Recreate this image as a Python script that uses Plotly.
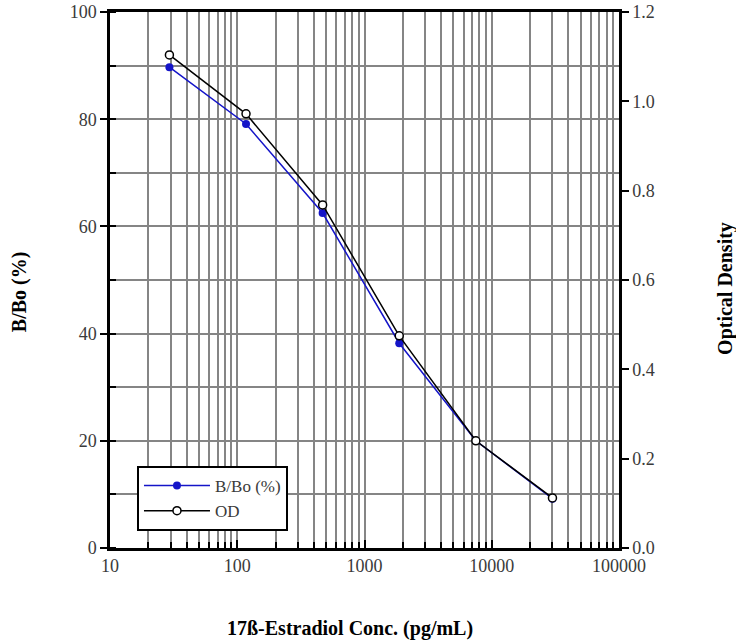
import plotly.graph_objects as go

conc = [29.3, 117.2, 468.75, 1875, 7500, 30000]
bbo = [89.7, 79.1, 62.5, 38.2, 20.0, 9.2]
od = [1.104, 0.972, 0.768, 0.475, 0.240, 0.112]

x_ticks = [10, 100, 1000, 10000, 100000]
x_ticktext = ["10", "100", "1000", "10000", "100000"]

x_title = "<b>17ß-Estradiol Conc. (pg/mL)</b>"
y_title = "<b>B/Bo (%)</b>"
y2_title = "<b>Optical Density</b>"

serif = "Liberation Serif"
grid_c = "#858585"
tick_font = dict(family=serif, size=18, color="#3a3a3a")
title_font = dict(family=serif, size=20, color="black")

fig = go.Figure()
fig.add_trace(go.Scatter(
    x=conc, y=bbo, name="B/Bo (%)", mode="lines+markers",
    line=dict(color="#1414c8", width=1.5),
    marker=dict(color="#1414c8", size=8, symbol="circle"),
))
fig.add_trace(go.Scatter(
    x=conc, y=od, name="OD", mode="lines+markers", yaxis="y2",
    line=dict(color="black", width=1.5),
    marker=dict(color="white", size=8, symbol="circle",
                line=dict(color="black", width=1.5)),
))

fig.update_layout(
    width=736, height=642,
    margin=dict(l=110, r=117, t=12, b=94),
    paper_bgcolor="white", plot_bgcolor="white",
    font=dict(family=serif, size=18, color="#3a3a3a"),
    showlegend=True,
    legend=dict(
        x=0.053, y=0.153, xanchor="left", yanchor="top",
        bgcolor="white", bordercolor="black", borderwidth=2,
        font=dict(family=serif, size=17, color="#3a3a3a"),
        itemwidth=66, tracegroupgap=0,
    ),
    xaxis=dict(
        type="log", range=[1, 5], automargin=False,
        tickvals=x_ticks, ticktext=x_ticktext, tickfont=tick_font,
        ticks="inside", ticklen=8, tickwidth=2, tickcolor="black",
        showline=True, linecolor="black", linewidth=2.5, mirror=True,
        showgrid=True, gridcolor=grid_c, gridwidth=2,
        minor=dict(dtick="D1", ticks="inside", ticklen=6, tickwidth=2,
                   tickcolor="black", showgrid=True, gridcolor=grid_c, gridwidth=2),
        zeroline=False,
    ),
    yaxis=dict(
        range=[0, 100], dtick=20, automargin=False, tickfont=tick_font,
        ticks="outside", ticklen=7, tickwidth=2, tickcolor="black",
        showline=True, linecolor="black", linewidth=2.5,
        showgrid=True, gridcolor=grid_c, gridwidth=2,
        minor=dict(dtick=10, ticks="inside", ticklen=6, tickwidth=2,
                   tickcolor="black", showgrid=True, gridcolor=grid_c, gridwidth=2),
        zeroline=False,
    ),
    yaxis2=dict(
        range=[0, 1.2], dtick=0.2, tickformat=".1f", automargin=False,
        overlaying="y", side="right", tickfont=tick_font,
        ticks="outside", ticklen=7, tickwidth=2, tickcolor="black",
        showline=True, linecolor="black", linewidth=2.5,
        showgrid=False, zeroline=False,
    ),
    annotations=[
        dict(text=x_title, xref="paper", yref="paper", x=0.4715, y=-0.151,
             xanchor="center", yanchor="middle", showarrow=False, font=title_font),
        dict(text=y_title, xref="paper", yref="paper", x=-0.179, y=0.479,
             xanchor="center", yanchor="middle", showarrow=False, textangle=-90,
             font=title_font),
        dict(text=y2_title, xref="paper", yref="paper", x=1.208, y=0.485,
             xanchor="center", yanchor="middle", showarrow=False, textangle=-90,
             font=title_font),
    ],
)

fig.write_html("out.html", config={"displayModeBar": False})

with open("out.html", "r", encoding="utf-8") as f:
    html = f.read()
html = html.replace("<head>", "<head><style>html,body{margin:0;padding:0;}</style>", 1)
with open("out.html", "w", encoding="utf-8") as f:
    f.write(html)
